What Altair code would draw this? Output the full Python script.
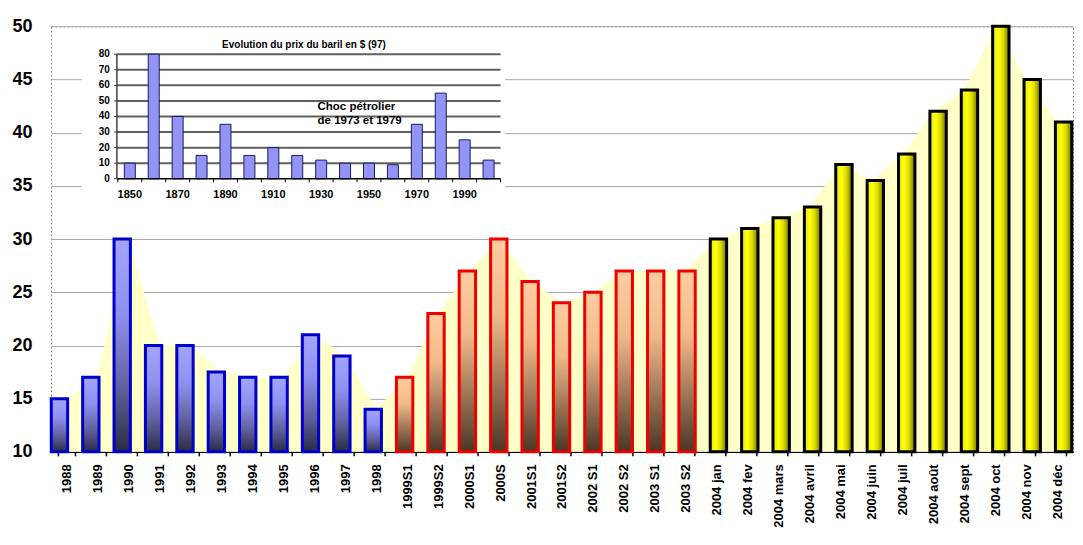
import altair as alt
import pandas as pd

# ---------------- data ----------------
categories = ["1988", "1989", "1990", "1991", "1992", "1993", "1994", "1995", "1996", "1997", "1998",
              "1999S1", "1999S2", "2000S1", "2000S", "2001S1", "2001S2", "2002 S1", "2002 S2", "2003 S1", "2003 S2",
              "2004 jan", "2004 fev", "2004 mars", "2004 avril", "2004 mai", "2004 juin", "2004 juil",
              "2004 août", "2004 sept", "2004 oct", "2004 nov", "2004 déc"]
prices = [15, 17, 30, 20, 20, 17.5, 17, 17, 21, 19, 14,
          17, 23, 27, 30, 26, 24, 25, 27, 27, 27,
          30, 31, 32, 33, 37, 35.5, 38, 42, 44, 50, 45, 41]
groups = ["annuel"] * 11 + ["semestriel"] * 10 + ["mensuel"] * 12

inset_years = [1850, 1860, 1870, 1880, 1890, 1900, 1910, 1920, 1930, 1940, 1950, 1960, 1970, 1980, 1990, 2000]
inset_prices = [10, 80, 40, 15, 35, 15, 20, 15, 12, 10, 10, 9, 35, 55, 25, 12]
inset_label_years = ["1850", "1870", "1890", "1910", "1930", "1950", "1970", "1990"]
inset_tick_years = [1845, 1855, 1865, 1875, 1885, 1895, 1905, 1915, 1925, 1935, 1945, 1955, 1965, 1975, 1985, 1995, 2005]
inset_grid_values = [10, 20, 30, 40, 50, 60, 70, 80]
inset_label_values = [0, 10, 20, 30, 40, 50, 60, 70, 80]
inset_title = "Evolution du prix du baril en $ (97)"
inset_note = ["Choc pétrolier", "de 1973 et 1979"]

FONT = "Liberation Sans"

main_df = pd.DataFrame({"cat": categories, "price": prices, "group": groups,
                        "idx": list(range(len(categories)))})

# ---------------- main chart ----------------
# category axis (labels, ticks, area) and a slightly wider band scale for the bars
xs = alt.Scale(domain=categories, paddingInner=0.45, paddingOuter=0.225)
xs_bars = alt.Scale(domain=categories, paddingInner=0.478, paddingOuter=0.239, range=[-7.2, 1029.3])
ys = alt.Scale(domain=[10, 50], nice=False, zero=False)

x_axis = alt.Axis(title=None, labelAngle=270, labelFont=FONT, labelFontSize=13, labelFontWeight="bold",
                  labelColor="black", labelPadding=8, labelLimit=200, tickBand="extent", tickSize=4,
                  tickColor="black", tickWidth=1.5, domainColor="black", domainWidth=1.5, grid=False)
y_axis = alt.Axis(title=None, values=[10, 15, 20, 25, 30, 35, 40, 45, 50], labelFont=FONT, labelFontSize=18,
                  labelFontWeight="bold", labelColor="black", labelPadding=19, ticks=False, domain=False,
                  grid=True, gridColor="#A8A8A8", gridWidth=1)

base = alt.Chart(main_df)

area = base.mark_area(color="#FFFFC8", opacity=1, interpolate="linear").encode(
    x=alt.X("cat:N", scale=xs, sort=categories, axis=x_axis),
    y=alt.Y("price:Q", scale=ys, axis=y_axis),
    y2=alt.Y2Datum(10),
)

def grad_v(stops):
    return alt.Gradient(gradient="linear", x1=0, x2=0, y1=0, y2=1,
                        stops=[alt.GradientStop(color=c, offset=o) for o, c in stops])

def grad_h(stops):
    return alt.Gradient(gradient="linear", x1=0, x2=1, y1=0, y2=0,
                        stops=[alt.GradientStop(color=c, offset=o) for o, c in stops])

blue_fill = grad_v([(0, "#A4A4FF"), (0.35, "#9090F0"), (0.7, "#60609E"), (1, "#2A2A44")])
red_fill = grad_v([(0, "#FFCCA0"), (0.35, "#F2BA8A"), (0.7, "#9A7254"), (1, "#4A3626")])
yellow_fill = grad_h([(0, "#E8E800"), (0.35, "#FFFF10"), (0.65, "#DADA00"), (1, "#707000")])

def bars(group, fill, stroke):
    return base.transform_filter(alt.datum.group == group).mark_bar(
        fill=fill, stroke=stroke, strokeWidth=3
    ).encode(
        x=alt.X("cat:N", scale=xs_bars, sort=categories, axis=None),
        y=alt.Y("price:Q", scale=ys, axis=None),
        y2=alt.Y2Datum(10),
    )

bar_layer = alt.layer(
    bars("annuel", blue_fill, "#0000CC"),
    bars("semestriel", red_fill, "#EE0000"),
    bars("mensuel", yellow_fill, "black"),
)

# ---------------- inset chart ----------------
ixs = alt.Scale(domain=[1844.6, 2005], range=[61, 455], nice=False, zero=False)
iys = alt.Scale(domain=[0, 80], range=[152.7, 28], nice=False, zero=False)

one = pd.DataFrame({"k": [0]})

inset_bg = alt.Chart(one).mark_rect(fill="white").encode(
    x=alt.XDatum(1829.9, type="quantitative", scale=ixs, axis=None),
    x2=alt.X2Datum(2007.0),
    y=alt.YDatum(96.7, type="quantitative", scale=iys, axis=None),
    y2=alt.Y2Datum(-16.9),
)

grid_df = pd.DataFrame({"v": inset_grid_values})
inset_grid = alt.Chart(grid_df).mark_rule(color="#606060", strokeWidth=2).encode(
    y=alt.Y("v:Q", scale=iys, axis=None),
    x=alt.XDatum(1844.6, type="quantitative", scale=ixs, axis=None),
    x2=alt.X2Datum(2005),
)

lab_df = pd.DataFrame({"v": inset_label_values})
inset_yticks = alt.Chart(lab_df).mark_rule(color="#404040", strokeWidth=1).encode(
    y=alt.Y("v:Q", scale=iys, axis=None),
    x=alt.XDatum(1843.4, type="quantitative", scale=ixs, axis=None),
    x2=alt.X2Datum(1844.6),
)
inset_ylabels = alt.Chart(lab_df).mark_text(
    align="right", baseline="middle", dx=-7, font=FONT, fontSize=10, fontWeight="bold", color="black"
).encode(
    y=alt.Y("v:Q", scale=iys, axis=None),
    x=alt.XDatum(1844.6, type="quantitative", scale=ixs, axis=None),
    text="v:Q",
)

inset_yaxis = alt.Chart(one).mark_rule(color="#404040", strokeWidth=1.5).encode(
    x=alt.XDatum(1844.6, type="quantitative", scale=ixs, axis=None),
    y=alt.YDatum(0, type="quantitative", scale=iys, axis=None),
    y2=alt.Y2Datum(80),
)

tick_df = pd.DataFrame({"year": inset_tick_years})
inset_xticks = alt.Chart(tick_df).mark_rule(color="black", strokeWidth=1).encode(
    x=alt.X("year:Q", scale=ixs, axis=None),
    y=alt.YDatum(0, type="quantitative", scale=iys, axis=None),
    y2=alt.Y2Datum(-2.2),
)

ibar_df = pd.DataFrame({"year": inset_years, "price": inset_prices})
inset_bars = alt.Chart(ibar_df).mark_bar(size=11, fill="#9494F6", stroke="#1A1A60", strokeWidth=1).encode(
    x=alt.X("year:Q", scale=ixs, axis=None),
    y=alt.Y("price:Q", scale=iys, axis=None),
    y2=alt.Y2Datum(0),
)

inset_xaxis = alt.Chart(one).mark_rule(color="black", strokeWidth=1.5).encode(
    y=alt.YDatum(0, type="quantitative", scale=iys, axis=None),
    x=alt.XDatum(1844.6, type="quantitative", scale=ixs, axis=None),
    x2=alt.X2Datum(2005),
)

xlab_df = pd.DataFrame({"lab": inset_label_years, "year": [int(s) for s in inset_label_years]})
inset_xlabels = alt.Chart(xlab_df).mark_text(
    align="center", baseline="middle", dy=16, font=FONT, fontSize=11, fontWeight="bold", color="black"
).encode(
    x=alt.X("year:Q", scale=ixs, axis=None),
    y=alt.YDatum(0, type="quantitative", scale=iys, axis=None),
    text="lab:N",
)

title_df = pd.DataFrame({"t": [inset_title]})
inset_title_mark = alt.Chart(title_df).mark_text(
    align="center", baseline="middle", font=FONT, fontSize=10, fontWeight="bold", color="black"
).encode(
    x=alt.XDatum(1922.8, type="quantitative", scale=ixs, axis=None),
    y=alt.YDatum(85.8, type="quantitative", scale=iys, axis=None),
    text="t:N",
)

note_df = pd.DataFrame({"t": inset_note, "v": [46.2, 37.2]})
inset_note_mark = alt.Chart(note_df).mark_text(
    align="left", baseline="middle", font=FONT, fontSize=11.5, fontWeight="bold", color="black"
).encode(
    x=alt.XDatum(1928.5, type="quantitative", scale=ixs, axis=None),
    y=alt.Y("v:Q", scale=iys, axis=None),
    text="t:N",
)

inset = alt.layer(inset_bg, inset_grid, inset_yticks, inset_xticks, inset_bars, inset_xaxis, inset_yaxis,
                  inset_ylabels, inset_xlabels, inset_title_mark, inset_note_mark)

chart = alt.layer(area, bar_layer, inset).resolve_scale(x="independent", y="independent").properties(
    width=1023, height=426,
    autosize=alt.AutoSizeParams(type="none"),
    padding={"left": 43, "top": 18, "right": 2, "bottom": 85},
    background="white",
).configure_view(stroke="#808080", strokeDash=[2, 2], strokeWidth=1)

chart.save("out.html", embed_options={"renderer": "svg", "actions": False})
